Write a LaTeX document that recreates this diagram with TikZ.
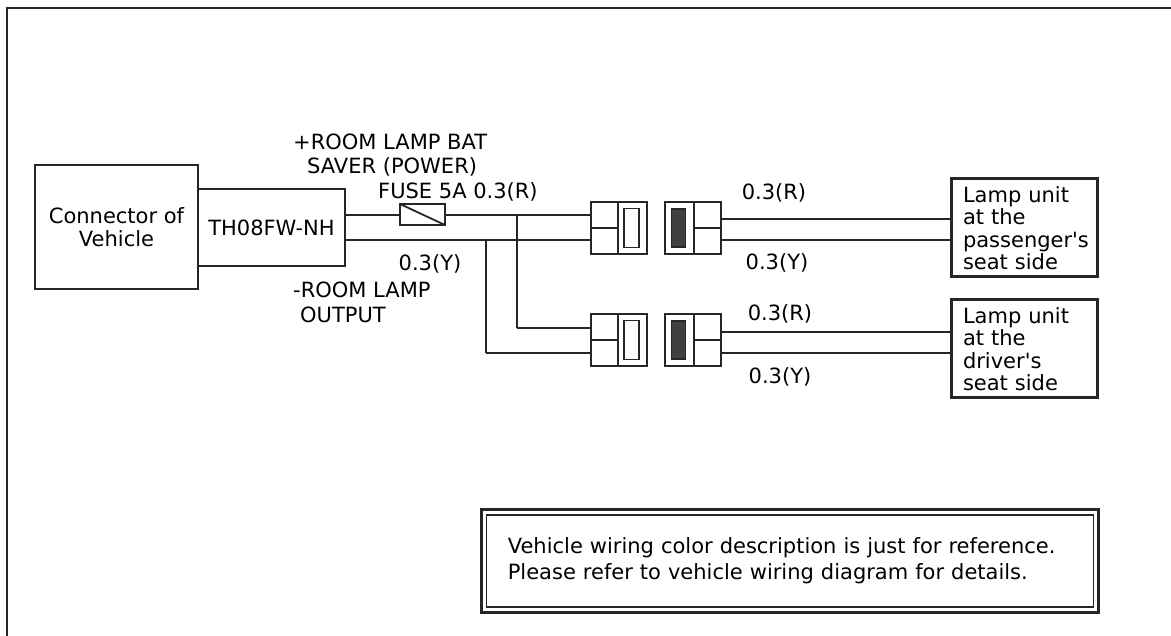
\documentclass[tikz,border=0pt]{standalone}
\usepackage{fontspec}
\setmainfont[Ligatures=TeXOff]{DejaVu Sans}
\usetikzlibrary{positioning}

\begin{document}
\begin{tikzpicture}[x=1pt,y=-1pt,
        node distance = 0pt,
        font = \fontsize{21}{22.5}\selectfont,
        wire/.style = {line width=1.8pt,color=black!85},
        box/.style = {draw=black!85,line width=1.5pt,inner sep=0pt,outer sep=0pt,align=center},
        lampbox/.style = {draw=black!85,line width=3pt,inner sep=0pt,outer sep=0pt,
            minimum width=146pt,minimum height=98pt,text width=122pt,align=left},
        cell/.style = {box,minimum width=27pt,minimum height=26pt},
        shell/.style = {box,minimum width=29pt,minimum height=52pt},
        window/.style = {box,line width=1.8pt,minimum width=15pt,minimum height=39pt},
        plug/.style = {box,minimum width=14pt,minimum height=38pt,fill=black!75},
        lbl/.style = {inner sep=0pt,align=left}]
    \useasboundingbox (0,0) rectangle (1171,636);
    % outer frame
    \coordinate (frametl) at (7,8);
    \coordinate (frametr) at (1171,8);
    \coordinate (framebl) at (7,636);
    \draw[line width=1.8pt,color=black!85] (framebl) -- (frametl) -- (frametr);

    \node[box,minimum width=163pt,minimum height=124pt,anchor=north west] (vehicle) at (35,165) {Connector of\\[0pt]Vehicle};
    \node[box,minimum width=147pt,minimum height=77pt,anchor=north west] (harness) at (198,189) {TH08FW-NH};
    \node[box,minimum width=45pt,minimum height=21pt,anchor=north west] (fuse) at (400,204) {};
    \draw[wire] (fuse.north west) -- (fuse.south east);

    % passenger side
    \node[cell,anchor=north west] (ptop) at (591,202) {};
    \node[cell,below=of ptop] (pbot) {};
    \node[shell,anchor=north west] (pshell) at (ptop.north east) {};
    \node[window] (pwin) at ([xshift=-1pt]pshell.center) {};
    \node[shell,anchor=north west] (qshell) at (665,202) {};
    \node[plug] (qplug) at ([xshift=-1pt]qshell.center) {};
    \node[cell,anchor=north west] (qtop) at (qshell.north east) {};
    \node[cell,below=of qtop] (qbot) {};
    \node[lampbox,anchor=north west] (plamp) at (951,179) {Lamp unit\\at the\\\mbox{passenger's}\\seat side};

    % driver side
    \node[cell,anchor=north west] (dtop) at (591,314) {};
    \node[cell,below=of dtop] (dbot) {};
    \node[shell,anchor=north west] (dshell) at (dtop.north east) {};
    \node[window] (dwin) at ([xshift=-1pt]dshell.center) {};
    \node[shell,anchor=north west] (eshell) at (665,314) {};
    \node[plug] (eplug) at ([xshift=-1pt]eshell.center) {};
    \node[cell,anchor=north west] (etop) at (eshell.north east) {};
    \node[cell,below=of etop] (ebot) {};
    \node[lampbox,anchor=north west] (dlamp) at (951,300) {Lamp unit\\at the\\driver's\\seat side};

    \coordinate (rbegin) at (345,215);
    \coordinate (ybegin) at (345,240);
    \coordinate (rjoin) at (517,215);
    \coordinate (yjoin) at (486,240);
    \coordinate (rend) at (591,215);
    \coordinate (yend) at (591,240);
    \coordinate (rdrop) at (517,328);
    \coordinate (ydrop) at (486,353);
    \coordinate (rdend) at (591,328);
    \coordinate (ydend) at (591,353);
    \coordinate (qr) at (721,219);
    \coordinate (qy) at (721,240);
    \coordinate (er) at (721,332);
    \coordinate (ey) at (721,353);
    \path[wire]
        (rbegin) edge (rbegin -| fuse.west)
        (rbegin -| fuse.east) edge (rend)
        (ybegin) edge (yend)
        (rjoin) edge (rdrop)
        (rdrop) edge (rdend)
        (yjoin) edge (ydrop)
        (ydrop) edge (ydend)
        (qr) edge (qr -| plamp.west)
        (qy) edge (qy -| plamp.west)
        (er) edge (er -| dlamp.west)
        (ey) edge (ey -| dlamp.west);

    \node[lbl,anchor=west] (powerone) at (293,142) {+ROOM LAMP BAT};
    \node[lbl,anchor=west] (powertwo) at (307,167) {SAVER (POWER)};
    \node[lbl,anchor=west] (fuselbl) at (378,192) {FUSE 5A 0.3(R)};
    \node[lbl] (yleft) at (430,264) {0.3(Y)};
    \node[lbl,anchor=west] (outone) at (293,290) {-ROOM LAMP};
    \node[lbl,anchor=west] (outtwo) at (300,315) {OUTPUT};
    \node[lbl] (rp) at (774,193) {0.3(R)};
    \node[lbl] (yp) at (777,263) {0.3(Y)};
    \node[lbl] (rd) at (780,314) {0.3(R)};
    \node[lbl] (yd) at (780,377) {0.3(Y)};

    \node[draw=black!85,line width=2.6pt,minimum width=617pt,minimum height=103pt,anchor=north west,inner sep=0pt] (noteouter) at (480,508) {};
    \node[draw=black!85,line width=1.4pt,minimum width=607pt,minimum height=92pt,inner sep=0pt,text width=564pt,align=left] (note) at (noteouter.center) {Vehicle wiring color description is just for reference.\\[3.5pt]Please refer to vehicle wiring diagram for details.};
\end{tikzpicture}
\end{document}
